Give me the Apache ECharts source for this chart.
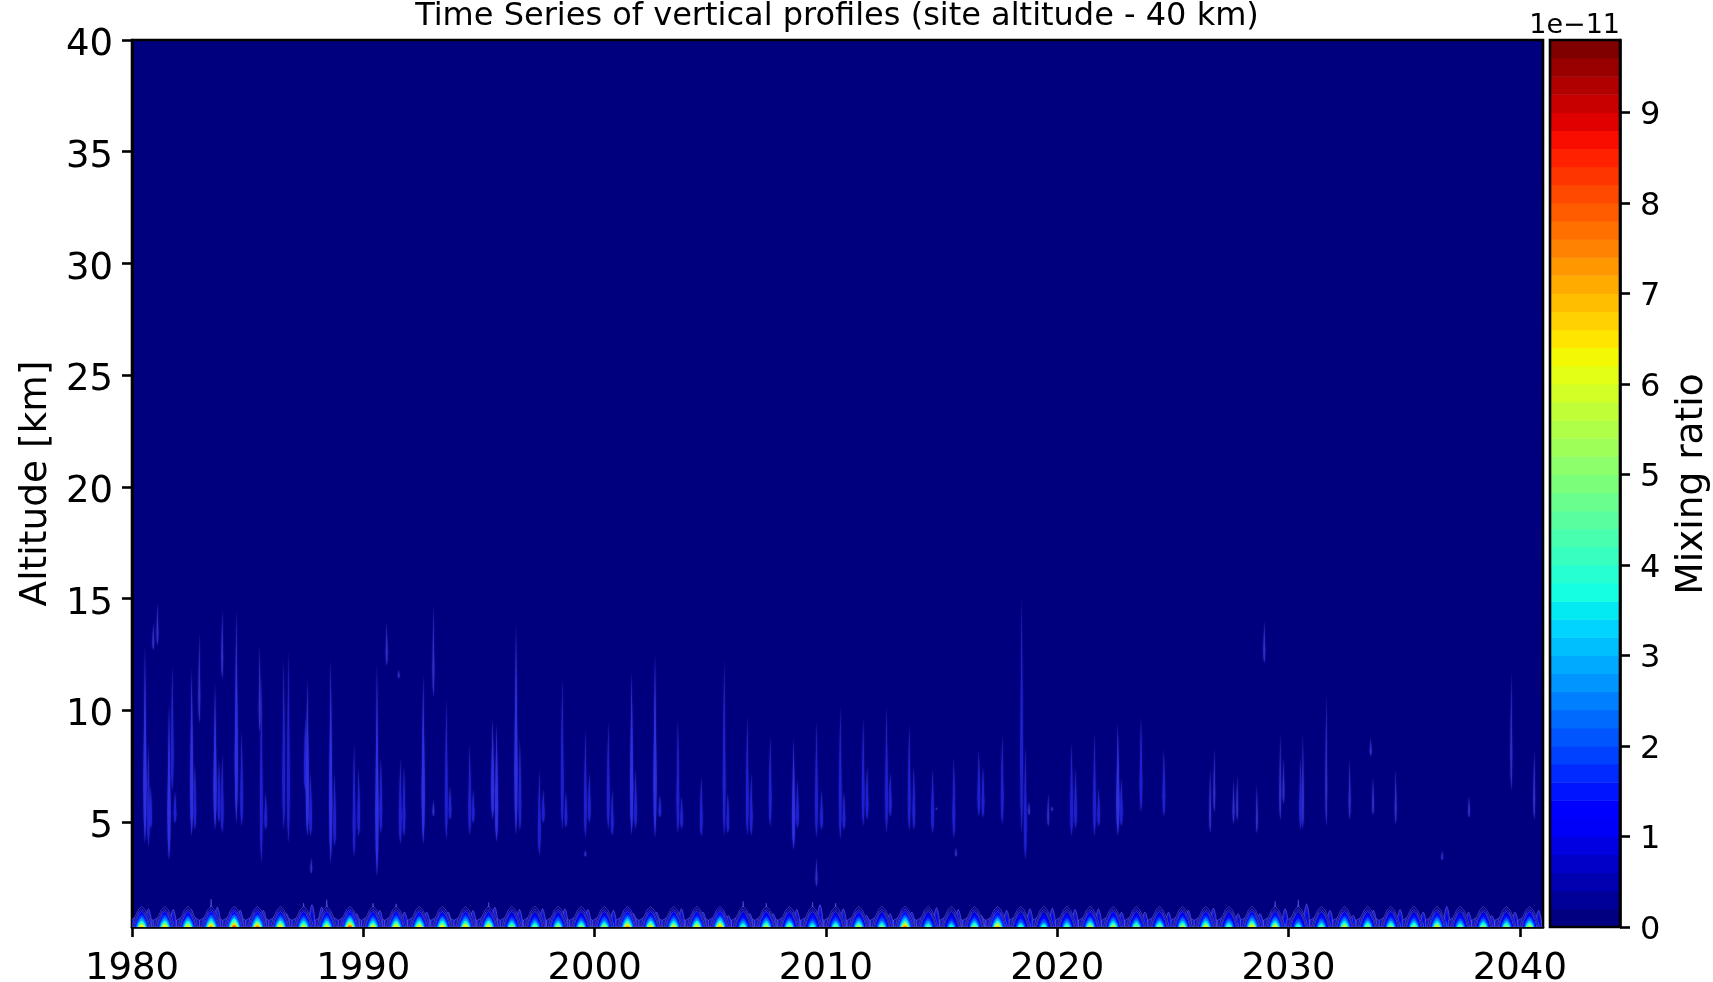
<!DOCTYPE html>
<html><head><meta charset="utf-8">
<style>html,body{margin:0;padding:0;background:#fff}#c{width:1713px;height:982px}</style>
<script src="https://cdn.jsdelivr.net/npm/echarts@6/dist/echarts.min.js"></script>
</head><body><div id="c"></div>
<script>
const xTicks = [1980,1990,2000,2010,2020,2030,2040];
const yTicks = [5,10,15,20,25,30,35,40];
const barTicks = [0,1,2,3,4,5,6,7,8,9];
const barEdges = [0,0.2,0.4,0.6,0.8,1,1.2,1.4,1.6,1.8,2,2.2,2.4,2.6,2.8,3,3.2,3.4,3.6,3.8,4,4.2,4.4,4.6,4.8,5,5.2,5.4,5.6,5.8,6,6.2,6.4,6.6,6.8,7,7.2,7.4,7.6,7.8,8,8.2,8.4,8.6,8.8,9,9.2,9.4,9.6,9.8];

// Surface maxima: year of the yearly maximum, value (1e-11), top of the plume (km)
const plumeYears = [1980.42,1981.42,1982.42,1983.42,1984.42,1985.42,1986.42,1987.42,1988.42,1989.42,1990.42,1991.42,1992.42,1993.42,1994.42,1995.42,1996.42,1997.42,1998.42,1999.42,2000.42,2001.42,2002.42,2003.42,2004.42,2005.42,2006.42,2007.42,2008.42,2009.42,2010.42,2011.42,2012.42,2013.42,2014.42,2015.42,2016.42,2017.42,2018.42,2019.42,2020.42,2021.42,2022.42,2023.42,2024.42,2025.42,2026.42,2027.42,2028.42,2029.42,2030.42,2031.42,2032.42,2033.42,2034.42,2035.42,2036.42,2037.42,2038.42,2039.42,2040.42];
const plumePeak = [6.5,6.5,6.3,7.2,8,7.5,6.6,5.8,6,7.8,6,6.5,6.3,6.3,6.5,6.3,5,4.8,5.3,5,5.2,7.2,6.2,6,6.2,7,4.5,5.5,5,4.2,4.8,5.5,4.8,7.5,4.5,3.8,5,6.8,4,4,4.5,5.5,5.5,5,5,5.5,6,4.5,6.5,6,4,4.5,5.8,5,5,5,6,4.5,5,5,5.5];
const plumeTop = [1.25,1.3,1.22,1.55,1.22,1.27,1.25,1.37,1.52,1.25,1.37,1.34,1.25,1.22,1.25,1.4,1.22,1.25,1.25,1.22,1.22,1.22,1.25,1.22,1.25,1.25,1.45,1.37,1.25,1.4,1.37,1.19,1.25,1.25,1.3,1.22,1.22,1.25,1.25,1.25,1.22,1.22,1.22,1.22,1.22,1.19,1.3,1.19,1.3,1.45,1.52,1.19,1.27,1.22,1.22,1.19,1.3,1.19,1.22,1.22,1.22];
// Side lobe of each plume: offset from the plume in years, height above the ground in km
const lobeOffset = [.29,.36,.14,.27,.26,.26,.26,.36,-.22,.29,.29,.36,.32,.25,.32,.26,.33,.33,.29,.29,.39,.26,.26,.33,.27,.36,.29,.3,.32,.32,.33,.33,.35,.29,.36,.3,.3,.39,.4,.37,.35,.36,.36,.37,.39,.25,.33,.4,.35,.43,.36,.37,.37,.25,.4,.4,.42,.36,.36,.37,.39];
const lobeHeight = [.82,.79,.79,.9,.75,.75,.6,1,.9,.6,.75,.67,.67,.67,.75,.9,.79,.82,.82,.79,.75,.6,.67,.82,.67,.52,.6,.6,.79,1,.82,.52,.6,.67,.87,.79,.52,.75,.82,.85,.79,.82,.67,.67,.67,.75,.85,.6,.6,.82,1.04,.75,.52,.75,.79,.67,.92,.67,.52,.67,.75];

// Thin free-tropospheric streaks: [year, bottom km, top km, strength]
const streaks1980s = [[1980.56,4.06,12.86,3],[1980.71,3.9,8.5,2],[1980.81,4.7,6.6,2],[1980.92,12.7,13.9,1],[1981.1,12.9,14.8,1],[1981.6,3.3,10.3,3],[1981.74,6.4,12,2],[1981.86,4.95,6.4,2],[1982.58,4.35,11.9,3],[1982.72,4.65,7.6,2],[1982.91,9.4,13.5,1],[1983.59,4.65,11.2,3],[1983.76,4.95,7.8,2],[1983.9,11.4,14.5,1],[1983.9,4.5,8,2],[1984.51,4.95,14.5,3],[1984.74,4.8,9.05,2],[1985.52,9,12.9,1],[1985.59,3.15,11.5,2],[1985.78,4.65,6.3,2],[1986.56,4.65,12.3,2],[1986.76,4.05,12.7,2],[1987.49,6.4,9.7,2],[1987.58,4.35,11.45,3],[1987.72,4.35,7.2,2],[1987.75,2.7,3.4,1],[1988.59,3.15,12.3,3],[1988.76,3.9,7.2,2],[1989.6,3.45,8.5,2],[1989.8,4.35,7.4,2]];
const streaks1990s = [[1990.59,2.55,12.1,3],[1990.76,4.5,7.9,2],[1991.01,12,13.9,1],[1991.53,11.45,11.8,1],[1991.6,4,7.9,2],[1991.76,4.35,7.5,2],[1992.59,4,11.6,3],[1993.03,10.6,14.7,1],[1993.03,5.25,6,1],[1993.59,4.2,10.5,2],[1993.75,5.1,6.6,2],[1994.6,4.4,8.5,2],[1994.75,4.95,6.45,2],[1995.59,5.1,9.6,3],[1995.76,4.1,9.4,3],[1996.6,4.4,13.9,3],[1996.77,4.6,8.75,2],[1997.61,3.5,7.35,2],[1997.78,4.95,6.45,2],[1998.6,4.65,11.45,2],[1998.76,4.75,6.35,2],[1999.6,4.3,9.15,2],[1999.77,4.95,7.2,2],[1999.6,3.45,3.75,1]];
const streaks2000s = [[2000.59,4.65,9.5,2],[2000.76,4.4,6.45,2],[2001.6,4.4,11.75,3],[2001.77,4.7,7.35,2],[2002.61,4.3,12.55,3],[2002.82,5.2,6.2,2],[2003.6,4.5,9.6,2],[2003.76,4.7,6.15,2],[2004.61,4.35,7.05,2],[2005.6,4.35,12.25,2],[2005.76,4.5,6.3,2],[2006.6,4.4,9.75,2],[2006.77,4.4,7.2,2],[2007.59,4.8,8.85,2],[2008.6,3.75,8.75,3],[2008.77,4.7,6.9,2],[2009.59,4.3,9.5,2],[2009.81,4.65,6.45,2],[2009.59,2.1,3.4,1]];
const streaks2010s = [[2010.62,4.2,10.2,2],[2010.78,4.65,6.35,2],[2011.61,4.8,9.65,2],[2011.78,5.1,7.5,2],[2012.62,4.5,10.2,2],[2012.78,5.25,7.2,2],[2013.6,4.6,9.4,2],[2013.8,4.65,7.5,2],[2014.61,4.5,7.4,2],[2014.78,5.55,5.65,1],[2015.53,4.3,7.9,2],[2015.62,3.45,3.85,1],[2016.61,5.25,8.25,2],[2016.79,5.2,7.5,2],[2017.62,4.9,8.9,2],[2018.46,4.5,15.1,2],[2018.62,3.3,8.4,2],[2018.78,5.3,5.9,1],[2019.61,4.8,6.3,1],[2019.77,5.5,5.7,1]];
const streaks2020s = [[2020.62,4.35,8.6,2],[2020.79,4.7,7.4,2],[2021.61,4.35,9,2],[2021.79,4.8,6.5,2],[2022.62,4.4,9.4,3],[2022.77,4.8,6.95,2],[2023.62,5.45,9.7,2],[2024.61,5.25,8.25,2],[2026.61,4.5,7.4,1],[2026.79,5.4,8.3,1],[2027.62,4.9,6.9,1],[2027.78,5.05,7.1,1],[2028.63,4.5,6.65,1],[2028.95,12.1,14,1],[2029.64,5.05,9,1],[2029.78,5.8,7.85,1]];
const streaks2030s = [[2030.52,4.65,7.9,2],[2030.62,4.65,9,1],[2031.63,4.8,10.75,1],[2032.64,5.1,7.85,1],[2033.55,7.95,8.75,1],[2033.65,5.3,7,1],[2034.63,4.9,7.35,1],[2036.64,3.3,3.7,1],[2037.8,5.2,6.15,1],[2039.63,6.4,11.75,1],[2040.62,5.1,8.25,1]];

// Contour family of one plume
const contourFraction = [0.03,0.08,0.15,0.25,0.35,0.45,0.6,0.75,0.9,1];
const contourHeight =   [0.92,0.8,0.7,0.58,0.48,0.38,0.28,0.19,0.12,0.05];
const contourHalfYear = [0.42,0.36,0.31,0.28,0.25,0.22,0.18,0.15,0.12,0.08];

function jet(t){
  const seg=(p)=>{for(let i=1;i<p.length;i++){if(t<=p[i][0]){const a=p[i-1],b=p[i];return a[1]+(b[1]-a[1])*(t-a[0])/(b[0]-a[0]);}}return p[p.length-1][1];};
  const r=seg([[0,0],[.35,0],[.66,1],[.89,1],[1,.5]]),g=seg([[0,0],[.125,0],[.375,1],[.64,1],[.91,0],[1,0]]),b=seg([[0,.5],[.11,1],[.34,1],[.65,0],[1,0]]);
  return 'rgb('+Math.round(r*255)+','+Math.round(g*255)+','+Math.round(b*255)+')';
}
const nBands = barEdges.length-1;
const bandColor = v => { let i=Math.min(nBands-1,Math.max(0,Math.floor(v/0.2))); return jet(i/(nBands-1)); };
const YMIN = 0.3;
const font = 'DejaVu Sans';

const chart = echarts.init(document.getElementById('c'),null,{renderer:'canvas'});

function renderPlume(params, api){
  const yr=api.value(0), peak=api.value(1), top=api.value(2), lo=api.value(3), lh=api.value(4);
  const P=(x,h)=>api.coord([x,YMIN+h]);
  const ch=[];
  const edge='rgba(120,120,240,0.55)';
  // low shoulders that link one plume to the next
  ch.push({type:'polygon',shape:{points:[P(yr-.5,0),P(yr-.5,.3),P(yr-.3,.42),P(yr,.5),P(yr+.3,.42),P(yr+.5,.3),P(yr+.5,0)]},
    style:{fill:'rgb(20,20,190)',stroke:edge,lineWidth:0.8}});
  // side lobe
  const lx=yr+lo;
  ch.push({type:'polygon',shape:{points:[P(lx-.14,0),P(lx-.11,lh*.55),P(lx-.05,lh*.88),P(lx,lh),P(lx+.05,lh*.88),P(lx+.11,lh*.55),P(lx+.14,0)]},style:{fill:'rgb(25,25,205)',stroke:edge,lineWidth:0.8}});
  ch.push({type:'polygon',shape:{points:[P(lx-.08,0),P(lx-.03,lh*.55),P(lx,lh*.72),P(lx+.03,lh*.55),P(lx+.08,0)]},style:{fill:bandColor(1.2)}});
  ch.push({type:'polygon',shape:{points:[P(lx-.05,0),P(lx,lh*.32),P(lx+.05,0)]},style:{fill:bandColor(2)}});
  // tall spike
  if(top>1.3){
    ch.push({type:'polygon',shape:{points:[P(yr-.06,.5),P(yr,top-YMIN),P(yr+.06,.5)]},style:{fill:'rgb(45,45,205)',stroke:edge,lineWidth:0.7}});
  }
  for(let i=0;i<contourFraction.length;i++){
    const h=contourHeight[i],w=contourHalfYear[i],v=contourFraction[i]*peak;
    const pts=[P(yr-w,0),P(yr-w*.76,h*.42),P(yr-w*.35,h*.84),P(yr,h),P(yr+w*.35,h*.84),P(yr+w*.76,h*.42),P(yr+w,0)];
    ch.push({type:'polygon',shape:{points:pts},style:{fill:bandColor(v),stroke:i<3?edge:null,lineWidth:i<3?0.8:0}});
  }
  return {type:'group',children:ch};
}
function renderStreak(params, api){
  const x=api.value(0),b=api.value(1),t=api.value(2),s=api.value(3);
  const hw=[0,0.04,0.055,0.07][s];
  const k=y=>b+(t-b)*y;
  const pts=[api.coord([x,b]),api.coord([x-hw*.7,k(.12)]),api.coord([x-hw,k(.3)]),api.coord([x-hw*.5,k(.65)]),api.coord([x,t]),api.coord([x+hw*.5,k(.65)]),api.coord([x+hw,k(.3)]),api.coord([x+hw*.7,k(.12)])];
  const low=['','rgb(45,45,195)','rgb(30,30,215)','rgb(45,45,225)'][s];
  const high=['','rgb(42,42,175)','rgb(40,40,185)','rgb(44,44,195)'][s];
  const grad=new echarts.graphic.LinearGradient(0,1,0,0,[{offset:0,color:low},{offset:0.6,color:low},{offset:1,color:high}]);
  return {type:'polygon',shape:{points:pts},style:{fill:grad,shadowBlur:1.5,shadowColor:'rgba(70,70,230,0.7)'}};
}
function renderBand(params, api){
  const lo=api.value(0),hi=api.value(1),i=params.dataIndex,cs=params.coordSys;
  const a=api.coord([0,lo]),b=api.coord([1,hi]);
  return {type:'rect',shape:{x:cs.x,y:b[1],width:cs.width,height:a[1]-b[1]+0.5},style:{fill:jet(i/(nBands-1))}};
}
const axisLine={show:true,onZero:false,lineStyle:{color:'#000',width:2.6}};
const streaks=[].concat(streaks1980s,streaks1990s,streaks2000s,streaks2010s,streaks2020s,streaks2030s);
chart.setOption({
  animation:false,
  backgroundColor:'#fff',
  title:[
    {text:'Time Series of vertical profiles (site altitude - 40 km)',left:837,top:1,padding:0,textAlign:'center',textStyle:{fontFamily:font,fontSize:32,fontWeight:'normal',color:'#000'}},
    {text:'1e\u221211',right:93,top:12,padding:0,textStyle:{fontFamily:font,fontSize:27,fontWeight:'normal',color:'#000'}}
  ],
  grid:[
    {left:132,top:40,width:1411,height:887,outerBoundsMode:'none',show:true,backgroundColor:'#00007f',borderColor:'#000',borderWidth:2.6},
    {left:1550,top:40,width:70,height:887,outerBoundsMode:'none',show:false}
  ],
  xAxis:[
    {gridIndex:0,type:'value',min:1980,max:2041,axisLine:axisLine,splitLine:{show:false},
     axisTick:{show:true,length:10,lineStyle:{color:'#000',width:2.6},customValues:xTicks},
     axisLabel:{fontFamily:font,fontSize:37,color:'#000',margin:24,customValues:xTicks,formatter:v=>String(v),hideOverlap:false}},
    {gridIndex:1,type:'value',min:0,max:1,show:false}
  ],
  yAxis:[
    {gridIndex:0,type:'value',min:YMIN,max:40,axisLine:axisLine,splitLine:{show:false},
     name:'Altitude [km]',nameLocation:'middle',nameGap:75,nameRotate:90,nameTextStyle:{fontFamily:font,fontSize:37.5,color:'#000'},
     axisTick:{show:true,length:10,lineStyle:{color:'#000',width:2.6},customValues:yTicks},
     axisLabel:{color:'#000',margin:19,customValues:yTicks,formatter:v=>'{t|'+v+'}',rich:{t:{fontFamily:font,fontSize:37,color:'#000',padding:[11,0,0,0]}}}},
    {gridIndex:1,type:'value',position:'right',min:0,max:9.8,axisLine:axisLine,splitLine:{show:false},
     name:'Mixing ratio',nameLocation:'middle',nameGap:53,nameRotate:90,nameTextStyle:{fontFamily:font,fontSize:37.5,color:'#000',padding:[0,1,0,0]},
     axisTick:{show:true,length:10,lineStyle:{color:'#000',width:2.6},customValues:barTicks},
     axisLabel:{color:'#000',margin:20,customValues:barTicks,formatter:v=>'{t|'+v+'}',rich:{t:{fontFamily:font,fontSize:32,color:'#000',padding:[7,0,0,0]}}}}
  ],
  series:[
    {type:'custom',xAxisIndex:0,yAxisIndex:0,clip:true,renderItem:renderStreak,encode:{x:0,y:[1,2]},data:streaks,silent:true},
    {type:'custom',xAxisIndex:0,yAxisIndex:0,clip:true,renderItem:renderPlume,encode:{x:0,y:2},data:plumeYears.map((y,i)=>[y,plumePeak[i],plumeTop[i],lobeOffset[i],lobeHeight[i]]),silent:true},
    {type:'custom',xAxisIndex:1,yAxisIndex:1,clip:false,renderItem:renderBand,encode:{y:[0,1]},data:barEdges.slice(0,-1).map((e,i)=>[e,barEdges[i+1]]),silent:true}
  ],
  graphic:[{type:'rect',silent:true,z:100,shape:{x:1550,y:40,width:70,height:887},style:{fill:'none',stroke:'#000',lineWidth:2.6}}]
});
</script></body></html>
